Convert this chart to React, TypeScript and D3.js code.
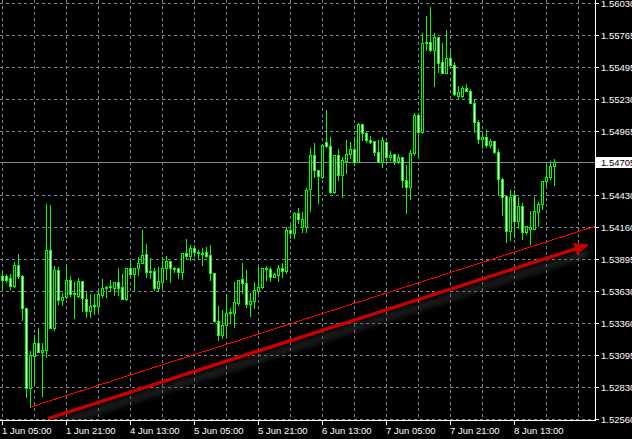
import React from 'react';
import * as d3 from 'd3';

const W = 632;
const H = 439;

// Hourly bars, GBP-like quotes, 1 Jun 05:00 .. 8 Jun
const opens = [
  1.53756, 1.53756, 1.5374, 1.53673, 1.53848, 1.53756, 1.53489, 1.52822, 1.53089, 1.53197,
  1.53122, 1.53139, 1.53973, 1.53322, 1.53806, 1.53556, 1.53581, 1.53723, 1.53606, 1.53589,
  1.53714, 1.53564, 1.53464, 1.53506, 1.53506, 1.53598, 1.53656, 1.53664, 1.53656, 1.53706,
  1.53664, 1.53564, 1.53823, 1.53773, 1.53823, 1.53865, 1.5394, 1.5379, 1.53798, 1.53656,
  1.53706, 1.53823, 1.53881, 1.53823, 1.53823, 1.5379, 1.53948, 1.53923, 1.5399, 1.53956,
  1.53948, 1.53956, 1.53932, 1.53781, 1.53381, 1.53264, 1.53348, 1.53448, 1.53448, 1.53531,
  1.53731, 1.53698, 1.53523, 1.53548, 1.53631, 1.53664, 1.53823, 1.53815, 1.53748, 1.53764,
  1.53823, 1.53798, 1.5414, 1.54115, 1.54282, 1.54165, 1.54165, 1.54482, 1.54765, 1.5464,
  1.54582, 1.54874, 1.5484, 1.54457, 1.54765, 1.54598, 1.54715, 1.54774, 1.54815, 1.54707,
  1.55024, 1.54949, 1.5489, 1.54882, 1.5479, 1.54707, 1.54874, 1.54749, 1.54774, 1.54715,
  1.54749, 1.54557, 1.54498, 1.54782, 1.55099, 1.54957, 1.55699, 1.55708, 1.55641, 1.55749,
  1.55541, 1.55449, 1.55574, 1.55516, 1.55257, 1.55257, 1.55324, 1.55299, 1.55199, 1.55041,
  1.54899, 1.54915, 1.54849, 1.54882, 1.5479, 1.54565, 1.54423, 1.54131, 1.54432, 1.54215,
  1.5434, 1.54123, 1.54148, 1.54148, 1.5429, 1.54357, 1.54548, 1.54582, 1.54674,
];
const highs = [
  1.53798, 1.53773, 1.53773, 1.53873, 1.5394, 1.53765, 1.53489, 1.53131, 1.53264, 1.53323,
  1.53197, 1.54357, 1.54348, 1.5384, 1.53831, 1.53614, 1.53856, 1.53756, 1.53706, 1.5374,
  1.53714, 1.53623, 1.53606, 1.53606, 1.53639, 1.53731, 1.53673, 1.53723, 1.53706, 1.53823,
  1.53773, 1.53823, 1.5389, 1.53823, 1.53915, 1.5414, 1.54023, 1.53907, 1.53823, 1.53831,
  1.53915, 1.53923, 1.53881, 1.53831, 1.53823, 1.53948, 1.54065, 1.54015, 1.54015, 1.53973,
  1.5399, 1.53998, 1.54015, 1.53781, 1.53506, 1.53473, 1.53606, 1.53489, 1.53706, 1.53723,
  1.53865, 1.53806, 1.53614, 1.53706, 1.53831, 1.53823, 1.5384, 1.53831, 1.53781, 1.53848,
  1.53865, 1.54165, 1.54181, 1.5429, 1.54323, 1.5429, 1.5449, 1.54824, 1.54865, 1.5464,
  1.54849, 1.55141, 1.54915, 1.54765, 1.54815, 1.54749, 1.5489, 1.54874, 1.54915, 1.55032,
  1.55024, 1.54966, 1.54924, 1.54882, 1.5489, 1.54915, 1.54874, 1.54799, 1.54774, 1.54774,
  1.54749, 1.54682, 1.54807, 1.55116, 1.55116, 1.55783, 1.55925, 1.56, 1.55783, 1.55749,
  1.55699, 1.55808, 1.55641, 1.55541, 1.55341, 1.55341, 1.55358, 1.55316, 1.55232, 1.55057,
  1.5494, 1.54974, 1.54899, 1.54882, 1.54815, 1.54573, 1.54423, 1.54473, 1.54473, 1.54415,
  1.54365, 1.54173, 1.54298, 1.54415, 1.54373, 1.54548, 1.54682, 1.54715, 1.54732,
];
const lows = [
  1.53647, 1.53706, 1.53647, 1.53664, 1.5374, 1.53389, 1.52747, 1.52664, 1.52856, 1.53122,
  1.52755, 1.53081, 1.53322, 1.53306, 1.53523, 1.53514, 1.53573, 1.53589, 1.53406, 1.53581,
  1.53464, 1.53415, 1.53415, 1.5344, 1.53464, 1.53581, 1.53581, 1.53631, 1.53598, 1.53598,
  1.53564, 1.53556, 1.53764, 1.53639, 1.53764, 1.53865, 1.53748, 1.5374, 1.53639, 1.53639,
  1.53664, 1.53731, 1.53706, 1.5379, 1.5374, 1.53731, 1.53907, 1.5389, 1.53923, 1.53907,
  1.53848, 1.53915, 1.53723, 1.53372, 1.53222, 1.53239, 1.53264, 1.53364, 1.53331, 1.53514,
  1.53614, 1.53498, 1.53423, 1.53489, 1.53614, 1.53656, 1.53723, 1.53714, 1.53748, 1.53714,
  1.53748, 1.53781, 1.54073, 1.54073, 1.54198, 1.54123, 1.54123, 1.54298, 1.54582, 1.54365,
  1.54573, 1.54832, 1.54448, 1.54448, 1.54557, 1.54415, 1.54615, 1.5474, 1.54682, 1.54707,
  1.5489, 1.54874, 1.54865, 1.54765, 1.54707, 1.54665, 1.54699, 1.54724, 1.5469, 1.54699,
  1.54498, 1.54282, 1.54398, 1.54765, 1.54749, 1.54949, 1.55641, 1.55633, 1.55341, 1.55458,
  1.55449, 1.55449, 1.55508, 1.55266, 1.55232, 1.55249, 1.55299, 1.55199, 1.54957, 1.54865,
  1.54824, 1.54832, 1.54832, 1.54782, 1.54432, 1.54265, 1.5404, 1.54056, 1.54081, 1.54157,
  1.54065, 1.54106, 1.54023, 1.54148, 1.54173, 1.54315, 1.54507, 1.54565, 1.54515,
];
const closes = [
  1.53723, 1.53723, 1.53673, 1.53848, 1.53756, 1.53489, 1.52822, 1.53097, 1.53197, 1.53122,
  1.53139, 1.53973, 1.53322, 1.53806, 1.53556, 1.53581, 1.53723, 1.53606, 1.53614, 1.53714,
  1.53573, 1.53464, 1.53506, 1.53514, 1.53606, 1.53656, 1.53664, 1.53673, 1.53706, 1.53656,
  1.53564, 1.53823, 1.53773, 1.53823, 1.53865, 1.53932, 1.5379, 1.53798, 1.53656, 1.53714,
  1.53823, 1.53881, 1.53823, 1.53815, 1.5379, 1.53948, 1.53923, 1.5399, 1.53956, 1.53948,
  1.5394, 1.53923, 1.53781, 1.53381, 1.53264, 1.53348, 1.53448, 1.53456, 1.53539, 1.53723,
  1.53698, 1.53523, 1.53548, 1.53639, 1.53664, 1.53823, 1.53815, 1.53748, 1.53773, 1.53823,
  1.53798, 1.5414, 1.54115, 1.54282, 1.54232, 1.54232, 1.54473, 1.54765, 1.5464, 1.5459,
  1.54849, 1.5484, 1.54457, 1.54765, 1.54598, 1.54724, 1.54774, 1.54815, 1.54707, 1.55024,
  1.54949, 1.5489, 1.54874, 1.5479, 1.54707, 1.5489, 1.54749, 1.54765, 1.54715, 1.54749,
  1.54557, 1.54498, 1.54782, 1.55099, 1.54957, 1.55699, 1.55708, 1.55641, 1.55749, 1.55533,
  1.55449, 1.55574, 1.55516, 1.55274, 1.55291, 1.55324, 1.55299, 1.55199, 1.55041, 1.54899,
  1.54915, 1.54849, 1.54882, 1.5479, 1.54565, 1.54415, 1.54131, 1.54415, 1.54215, 1.5434,
  1.54123, 1.54173, 1.54165, 1.54298, 1.54357, 1.54548, 1.54582, 1.54674, 1.54705,
];

const priceTicks = [
  1.5603, 1.55765, 1.55495, 1.5523, 1.54965, 1.547, 1.5443, 1.5416, 1.53895, 1.5363,
  1.5336, 1.53095, 1.5283, 1.5256,
];
const priceTickLabels = [
  '1.56030', '1.55765', '1.55495', '1.55230', '1.54965', '1.54700', '1.54430', '1.54160',
  '1.53895', '1.53630', '1.53360', '1.53095', '1.52830', '1.52560',
];
const timeTickBars = [0, 16, 32, 48, 64, 80, 96, 112, 128];
const timeTickLabels = [
  '1 Jun 05:00', '1 Jun 21:00', '4 Jun 13:00', '5 Jun 05:00', '5 Jun 21:00',
  '6 Jun 13:00', '7 Jun 05:00', '7 Jun 21:00', '8 Jun 13:00',
];
const gridBars = [0, 8, 16, 24, 32, 40, 48, 56, 64, 72, 80, 88, 96, 104, 112, 120, 128, 136, 144];
const bidPrice = 1.54705;
const bidLabel = '1.54705';

// Trend line (ray) and arrow anchors: [bar, price]
const trendBars = [7, 148.25];
const trendPrices = [1.52664, 1.54173];
const arrowBars = [11.75, 146.7];
const arrowPrices = [1.52572, 1.5402];

const PLOT_R = 595;
const PLOT_B = 420;
const GREEN = '#00ff00';
const GRID = '#778899';
const FONT = '"Liberation Sans", Arial, sans-serif';

export default function App() {
  const x = d3.scaleLinear().domain([0, 148]).range([2.5, 594.5]);
  const y = d3.scaleLinear().domain([1.5256, 1.5603]).range([419.5, 3.5]);
  const snap = (v: number) => Math.round(v - 0.5) + 0.5;

  const bars = closes.map((c, i) => ({ o: opens[i], h: highs[i], l: lows[i], c }));

  // arrow geometry
  const ax0 = x(arrowBars[0]);
  const ay0 = y(arrowPrices[0]);
  const ax1 = x(arrowBars[1]);
  const ay1 = y(arrowPrices[1]);
  const dx = ax1 - ax0;
  const dy = ay1 - ay0;
  const len = Math.hypot(dx, dy);
  const ux = dx / len;
  const uy = dy / len;
  const headL = 15;
  const headW = 6;
  const bx = ax1 - headL * ux;
  const by = ay1 - headL * uy;
  const head = [
    [ax1, ay1],
    [bx - headW * uy, by + headW * ux],
    [bx + headW * uy, by - headW * ux],
  ];
  const headPath = d3.line()(head as [number, number][]) + 'Z';

  const bidY = snap(y(bidPrice));

  return (
    <svg
      width={W}
      height={H}
      style={{ position: 'absolute', left: 0, top: 0, display: 'block', background: '#000' }}
    >
      <defs>
        <clipPath id="plot">
          <rect x={0} y={0} width={PLOT_R} height={PLOT_B} />
        </clipPath>
        <filter id="blur" x="-10%" y="-50%" width="120%" height="200%">
          <feGaussianBlur stdDeviation="3" />
        </filter>
      </defs>
      <rect x={0} y={0} width={W} height={H} fill="#000" />

      {/* grid */}
      <g stroke={GRID} strokeWidth={1} strokeDasharray="3,3" shapeRendering="crispEdges">
        {priceTicks.map((p, k) => (
          <line key={'h' + k} x1={0} x2={PLOT_R} y1={snap(y(p))} y2={snap(y(p))} />
        ))}
        {gridBars.map((b, k) => (
          <line key={'v' + k} x1={x(b)} x2={x(b)} y1={0} y2={PLOT_B} />
        ))}
      </g>

      {/* bid line */}
      <line x1={0} x2={PLOT_R} y1={bidY} y2={bidY} stroke={GRID} strokeWidth={1} shapeRendering="crispEdges" />

      {/* candles */}
      <g clipPath="url(#plot)" shapeRendering="crispEdges">
        {bars.map((b, i) => {
          const xc = x(i);
          const yh = Math.round(y(b.h));
          const yl = Math.round(y(b.l));
          const yo = snap(y(b.o));
          const yc = snap(y(b.c));
          const top = Math.min(yo, yc);
          const bot = Math.max(yo, yc);
          const bull = b.c > b.o;
          return (
            <g key={i}>
              <line x1={xc} x2={xc} y1={yh} y2={yl + 1} stroke={GREEN} strokeWidth={1} />
              <rect
                x={xc - 1}
                y={top}
                width={2}
                height={Math.max(bot - top, 0.01)}
                fill={bull ? '#000' : '#fff'}
                stroke={GREEN}
                strokeWidth={1}
              />
            </g>
          );
        })}
      </g>

      {/* trend line and arrow */}
      <g clipPath="url(#plot)">
        <line
          x1={x(trendBars[0])}
          y1={y(trendPrices[0])}
          x2={x(trendBars[1])}
          y2={y(trendPrices[1])}
          stroke="#ff0000"
          strokeWidth={1}
          shapeRendering="crispEdges"
        />
        <g filter="url(#blur)" opacity={0.55} transform="translate(3,7)">
          <line x1={ax0} y1={ay0} x2={bx} y2={by} stroke="#444" strokeWidth={6} strokeLinecap="round" />
          <path d={headPath} fill="#444" />
        </g>
        <line x1={ax0} y1={ay0} x2={bx} y2={by} stroke="#c80000" strokeWidth={3.5} strokeLinecap="round" />
        <path d={headPath} fill="#c80000" />
      </g>

      {/* axes */}
      <g stroke="#fff" strokeWidth={1} shapeRendering="crispEdges">
        <line x1={PLOT_R + 0.5} x2={PLOT_R + 0.5} y1={0} y2={PLOT_B + 1} />
        <line x1={0} x2={PLOT_R + 1} y1={PLOT_B + 0.5} y2={PLOT_B + 0.5} />
        {priceTicks.map((p, k) => (
          <line key={'rt' + k} x1={PLOT_R + 1} x2={PLOT_R + 4} y1={snap(y(p))} y2={snap(y(p))} />
        ))}
        {timeTickBars.map((b, k) => (
          <line key={'bt' + k} x1={x(b)} x2={x(b)} y1={PLOT_B + 1} y2={PLOT_B + 5} />
        ))}
      </g>

      {/* price labels */}
      <g fill="#fff" fontFamily={FONT} fontSize={9.5}>
        {priceTicks.map((p, k) =>
          Math.abs(y(p) - y(bidPrice)) < 6 ? null : (
            <text key={'pl' + k} x={601} y={snap(y(p)) + 3.5}>
              {priceTickLabels[k]}
            </text>
          )
        )}
        {timeTickBars.map((b, k) => (
          <text key={'tl' + k} x={x(b) - 0.5} y={434}>
            {timeTickLabels[k]}
          </text>
        ))}
      </g>

      {/* bid label */}
      <rect x={596} y={bidY - 5.5} width={W - 596} height={11} fill="#fff" />
      <text x={601} y={bidY + 3.5} fill="#000" fontFamily={FONT} fontSize={9.5}>
        {bidLabel}
      </text>
    </svg>
  );
}
